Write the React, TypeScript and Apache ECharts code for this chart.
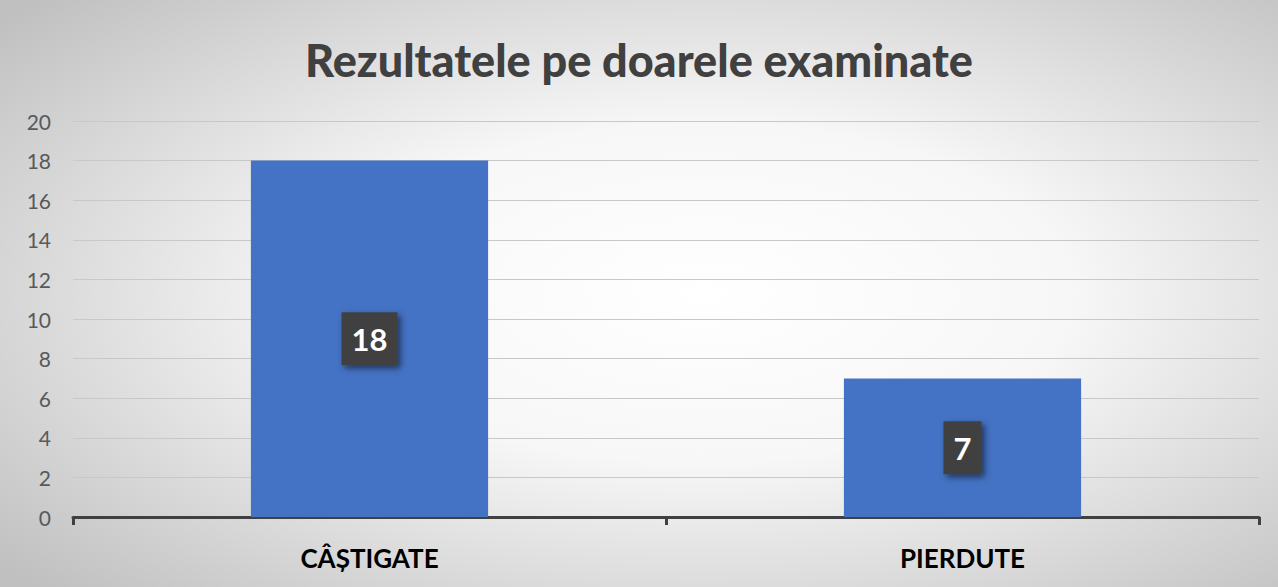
import React, { useEffect, useRef } from "react";
import * as echarts from "echarts";

const categories = ["CÂȘTIGATE", "PIERDUTE"];
const values = [18, 7];
const yMin = 0;
const yMax = 20;
const yInterval = 2;
const title = "Rezultatele pe doarele examinate";

export default function App() {
  const ref = useRef<HTMLDivElement>(null);
  useEffect(() => {
    document.body.style.margin = "0";
    if (!ref.current) return;
    const chart = echarts.init(ref.current, null, { renderer: "svg" });
    chart.setOption({
      animation: false,
      backgroundColor: new echarts.graphic.RadialGradient(0.55, 0.5, 0.72, [
        { offset: 0, color: "#ffffff" },
        { offset: 0.4, color: "#f7f7f7" },
        { offset: 1, color: "#c0c0c0" },
      ]),
      title: {
        text: title,
        left: "center",
        top: 32,
        textStyle: {
          fontFamily: "Lato",
          fontWeight: 900,
          fontSize: 45,
          color: "#404040",
        },
      },
      grid: { left: 73, right: 19, top: 121, bottom: 70, containLabel: false },
      xAxis: {
        type: "category",
        data: categories,
        axisLine: { lineStyle: { color: "#404040", width: 3 } },
        axisTick: { show: true, length: 8, lineStyle: { color: "#404040", width: 3 } },
        axisLabel: {
          margin: 28,
          fontFamily: "Lato",
          fontWeight: "bold",
          fontSize: 26,
          color: "#000000",
        },
      },
      yAxis: {
        type: "value",
        min: yMin,
        max: yMax,
        interval: yInterval,
        axisLine: { show: false },
        axisTick: { show: false },
        splitLine: { lineStyle: { color: "#c8c8c8", width: 1 } },
        axisLabel: {
          margin: 22,
          fontFamily: "Lato",
          fontSize: 21,
          color: "#595959",
        },
      },
      series: [
        {
          type: "bar",
          data: values,
          barWidth: "40%",
          itemStyle: { color: "#4472C4" },
          label: {
            show: true,
            position: "inside",
            fontFamily: "Lato",
            fontWeight: "bold",
            fontSize: 31,
            color: "#ffffff",
            backgroundColor: "#404040",
            padding: [12, 10, 10, 10],
            shadowColor: "rgba(0,0,0,0.55)",
            shadowBlur: 6,
            shadowOffsetX: 3,
            shadowOffsetY: 3,
          },
        },
      ],
    });
    return () => chart.dispose();
  }, []);
  return <div ref={ref} style={{ width: 1278, height: 587 }} />;
}
